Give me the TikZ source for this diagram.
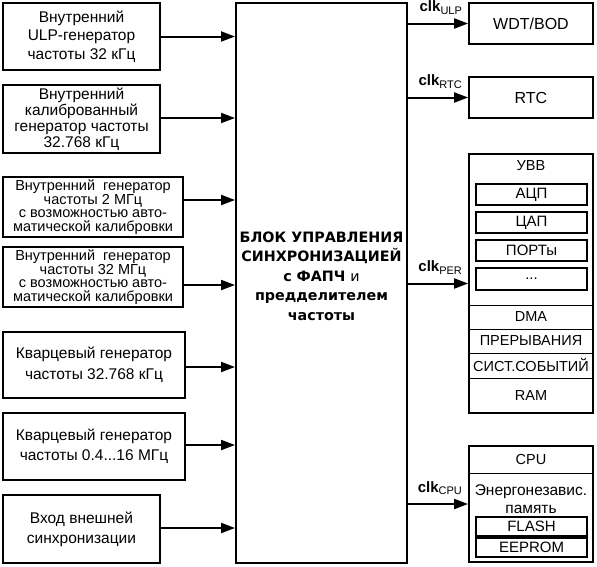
\documentclass[tikz,border=0pt]{standalone}
\usepackage{fontspec}
\setmainfont{Liberation Sans}
\newfontfamily\blkfont{DejaVu Sans}
\usetikzlibrary{arrows.meta,positioning}

\newcommand{\clklabel}[1]{\textbf{clk}\raisebox{-2.5pt}{\fontsize{11}{11}\selectfont #1}}

\begin{document}
\begin{tikzpicture}[x=1pt, y=-1pt,
    srcbox/.style={draw, line width=2.2pt, inner sep=0pt, align=center},
    outbox/.style={draw, line width=1.8pt, inner sep=0pt, align=center, font=\fontsize{16}{18}\selectfont},
    subbox/.style={draw, line width=1.1pt, inner sep=0pt, align=center, font=\fontsize{15}{15}\selectfont},
    celltext/.style={inner sep=0pt, align=center, font=\fontsize{14.5}{18}\selectfont},
    sig/.style={line width=2pt, -{Triangle[length=14pt,width=10pt]}},
    clk/.style={inner sep=0pt, font=\fontsize{15}{15}\selectfont}]
  \useasboundingbox (0,0) rectangle (597,566);

  % Clock sources
  \foreach \n/\ya/\yb/\xb/\fs/\ls/\txt in {
      1/3/70/160/15.5/18.5/{Внутренний\\ULP-генератор\\частоты 32 кГц},
      2/85/153/160/15.5/16/{Внутренний\\калиброванный\\генератор частоты\\32.768 кГц},
      3/177/237/183/14.5/13.5/{Внутренний~ генератор\\частоты 2 МГц\\с возможностью авто-\\матической калибровки},
      4/247/307/183/14.5/13.5/{Внутренний~ генератор\\частоты 32 МГц\\с возможностью авто-\\матической калибровки},
      5/332/398/185/15.5/21/{Кварцевый генератор\\частоты 32.768 кГц},
      6/413/480/185/15.5/20/{Кварцевый генератор\\частоты 0.4...16 МГц},
      7/495/563/160/15.5/20/{Вход внешней\\синхронизации}} {
    \pgfmathsetmacro{\ym}{(\ya+\yb)/2}
    \pgfmathsetmacro{\hh}{\yb-\ya}
    \pgfmathsetmacro{\xm}{(3+\xb)/2}
    \pgfmathsetmacro{\ww}{\xb-3}
    \node[srcbox, minimum width=\ww pt, minimum height=\hh pt,
          font=\fontsize{\fs}{\ls}\selectfont] (src\n) at (\xm,\ym) {\txt};
  }

  % Control block
  \node[draw, line width=2pt, minimum width=171pt, minimum height=560pt] (blk) at (321.5,283) {};
  \node[align=center, inner sep=0pt, font=\blkfont\fontsize{14.3}{19.5}\selectfont\bfseries] (blktext)
    at ([yshift=7pt]blk.center)
    {БЛОК УПРАВЛЕНИЯ\\СИНХРОНИЗАЦИЕЙ\\с ФАПЧ {\mdseries и}\\предделителем\\частоты};

  \foreach \n/\dy in {1/0,2/1,3/7,4/-8,5/-2,6/1.5,7/1}
    \draw[sig] ([yshift=\dy pt]src\n.east) -- ([yshift=\dy pt]src\n.east -| blk.west);

  % Consumers
  \node[outbox, minimum width=124pt, minimum height=41pt] (wdt) at (531,23.5) {WDT/BOD};
  \node[outbox, minimum width=124pt, minimum height=41pt] (rtc) at (531,97.5) {RTC};
  \node[outbox, minimum width=124pt, minimum height=259pt] (per) at (531,283.5) {};
  \node[outbox, minimum width=124pt, minimum height=116pt] (cpu) at (531,504) {};

  % Peripherals
  \node[celltext] (uvv) at (531,166) {УВВ};
  \foreach \n/\ya/\yb/\txt in {adc/184/205/АЦП, dac/212/233/ЦАП, port/240/261/ПОРТы, more/268/290/{...}} {
    \pgfmathsetmacro{\ym}{(\ya+\yb)/2}
    \pgfmathsetmacro{\hh}{\yb-\ya}
    \node[subbox, minimum width=111pt, minimum height=\hh pt] (\n) at (531.5,\ym) {\txt};
  }
  \foreach \y in {305,329,353,378}
    \draw[line width=1pt] (per.west |- 0,\y) -- (per.east |- 0,\y);
  \node[celltext] (dma) at (531,317) {DMA};
  \node[celltext] (irq) at (531,341) {ПРЕРЫВАНИЯ};
  \node[celltext] (evs) at (531,365.5) {СИСТ.СОБЫТИЙ};
  \node[celltext] (ram) at (531,395.5) {RAM};

  % CPU and memory
  \draw[line width=1pt] (cpu.west |- 0,473) -- (cpu.east |- 0,473);
  \node[celltext] (core) at (531,459.5) {CPU};
  \node[celltext, font=\fontsize{15.5}{18}\selectfont] (nvm) at (531,499) {Энергонезавис.\\память};
  \node[subbox, minimum width=111pt, minimum height=19pt] (flash) at (531.5,526.5) {FLASH};
  \node[subbox, minimum width=111pt, minimum height=19pt] (eeprom) at (531.5,547.5) {EEPROM};

  % Clock outputs
  \foreach \t/\lab in {wdt/ULP, rtc/RTC, per/PER, cpu/CPU} {
    \draw[sig] (blk.east |- \t.west) -- (\t.west);
    \node[clk, above left=9pt and 6pt of \t.west] (c\lab) {\clklabel{\lab}};
  }
\end{tikzpicture}
\end{document}
